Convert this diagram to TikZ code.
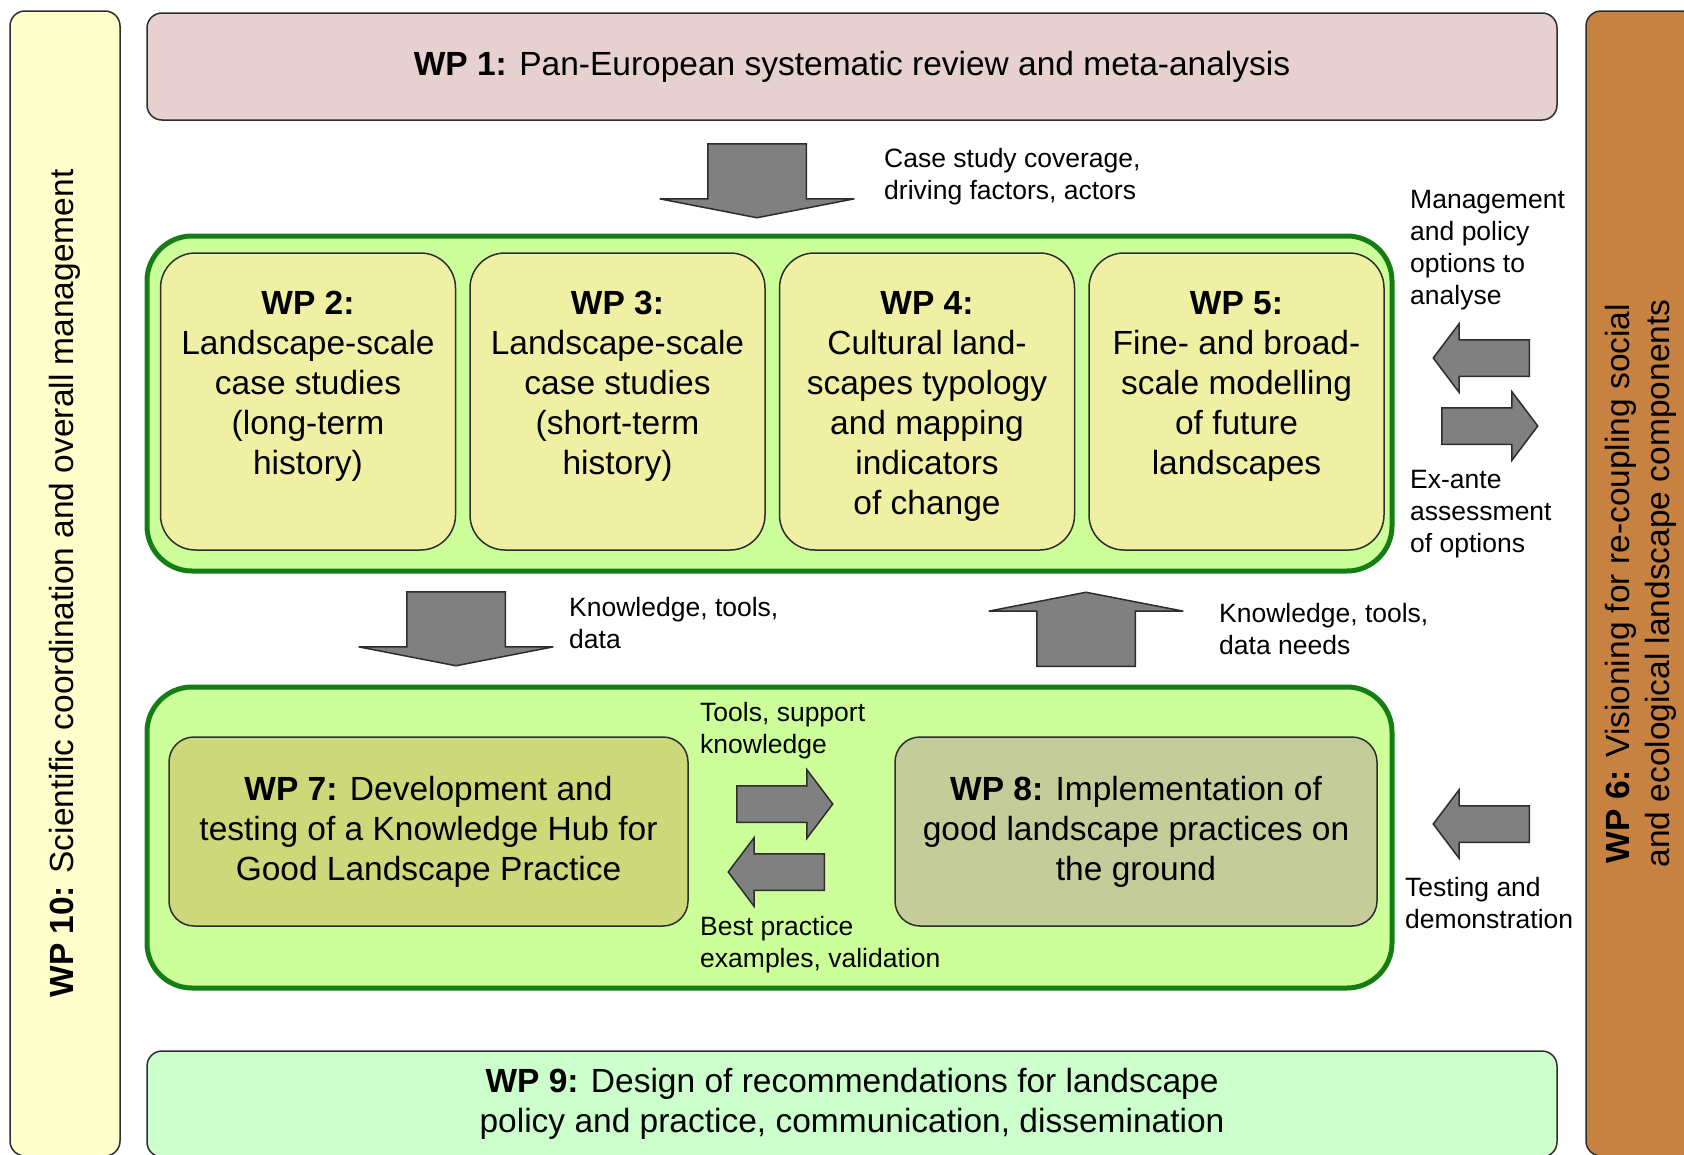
\documentclass[tikz,border=0pt]{standalone}
\usepackage{fontspec}
\setmainfont{Liberation Sans}
\usepackage{tikz}
\usetikzlibrary{positioning, shapes.arrows}

\definecolor{boxline}{RGB}{45,45,45}
\definecolor{arrowfill}{RGB}{128,128,128}
\definecolor{wpone}{RGB}{230,208,208}
\definecolor{wpten}{RGB}{255,255,204}
\definecolor{wpsix}{RGB}{199,129,64}
\definecolor{groupfill}{RGB}{204,255,153}
\definecolor{groupline}{RGB}{20,125,20}
\definecolor{casefill}{RGB}{240,240,165}
\definecolor{wpseven}{RGB}{204,216,122}
\definecolor{wpeight}{RGB}{196,204,153}
\definecolor{wpnine}{RGB}{204,255,204}

\begin{document}
\begin{tikzpicture}[
    x=1pt, y=-1pt,
    every node/.style={font=\fontsize{33.5}{40}\selectfont, align=center, inner sep=0pt},
    wpbox/.style={rectangle, rounded corners=15pt, draw=boxline, line width=1.5pt},
    groupbox/.style={rectangle, rounded corners=45pt, draw=groupline, fill=groupfill, line width=5pt},
    casebox/.style={wpbox, fill=casefill, rounded corners=35pt, minimum width=295pt, minimum height=297pt},
    bigarrow/.style={single arrow, draw=boxline, fill=arrowfill, line width=1.5pt, inner xsep=0pt, inner ysep=48.5pt, single arrow head extend=48pt, single arrow tip angle=158, minimum height=74pt},
    smallarrow/.style={single arrow, draw=boxline, fill=arrowfill, line width=1.5pt, inner xsep=0pt, inner ysep=17.5pt, single arrow head extend=16pt, single arrow tip angle=106, minimum height=96pt},
    note/.style={font=\fontsize{26.5}{32}\selectfont, align=left, anchor=west},
    ]
    \useasboundingbox (0,0) rectangle (1684,1154);
    %Side bars
    \node[wpbox, fill=wpten, minimum width=1145pt, minimum height=110pt, rotate=90] (wp10) at (65,583.5) {\textbf{WP 10:} Scientific coordination and overall management};
    \node[wpbox, fill=wpsix, minimum width=1145pt, minimum height=110pt, rotate=90] (wp6) at (1641,583.5) {\textbf{WP 6:} Visioning for re-coupling social\\and ecological landscape components};

    %Nodes
    \node[wpbox, fill=wpone, minimum width=1410pt, minimum height=107pt] (wp1) at (852,66.5) {\textbf{WP 1:} Pan-European systematic review and meta-analysis};

    \node[groupbox, minimum width=1245pt, minimum height=335pt] (upper) at (769.5,403.5) {};
    \node[casebox] (wp2) at (308,401.5) {};
    \node[casebox] (wp3) [right=13pt of wp2] {};
    \node[casebox] (wp4) [right=13pt of wp3] {};
    \node[casebox] (wp5) [right=13pt of wp4] {};
    \node (wp2 text) [below=39pt of wp2.north] {\textbf{WP 2:}\\Landscape-scale\\case studies\\(long-term\\history)};
    \node (wp3 text) [below=39pt of wp3.north] {\textbf{WP 3:}\\Landscape-scale\\case studies\\(short-term\\history)};
    \node (wp4 text) [below=39pt of wp4.north] {\textbf{WP 4:}\\Cultural land-\\scapes typology\\and mapping\\indicators\\of change};
    \node (wp5 text) [below=39pt of wp5.north] {\textbf{WP 5:}\\Fine- and broad-\\scale modelling\\of future\\landscapes};

    \node[groupbox, minimum width=1245pt, minimum height=301pt] (lower) at (769.5,837.5) {};
    \node[wpbox, fill=wpseven, rounded corners=25pt, minimum width=519pt, minimum height=189pt] (wp7) at (428.5,831.5) {\textbf{WP 7:} Development and\\testing of a Knowledge Hub for\\Good Landscape Practice};
    \node[wpbox, fill=wpeight, rounded corners=25pt, minimum width=482pt, minimum height=189pt] (wp8) at (1136,831.5) {\textbf{WP 8:} Implementation of\\good landscape practices on\\the ground};

    \node[wpbox, fill=wpnine, minimum width=1410pt, minimum height=106pt] (wp9) at (852,1104) {\textbf{WP 9:} Design of recommendations for landscape\\policy and practice, communication, dissemination};

    %Arrows
    \node[bigarrow, rotate=-90, anchor=tail] (cover arrow) at (757,143) {};
    \node[bigarrow, rotate=-90, anchor=tail] (know arrow) at (456,591) {};
    \node[bigarrow, rotate=90, anchor=tail] (needs arrow) at (1086,667) {};
    \node[smallarrow, rotate=180, anchor=tail] (policy arrow) at (1530,358) {};
    \node[smallarrow, anchor=tail] (exante arrow) at (1441,426) {};
    \node[smallarrow, rotate=180, anchor=tail] (testing arrow) at (1530,824) {};
    \node[smallarrow, anchor=tail] (tools arrow) at (736,804) {};
    \node[smallarrow, rotate=180, anchor=tail] (practice arrow) at (825,872) {};

    %Labels
    \node[note] (cover text) at (884,177) {Case study coverage,\\driving factors, actors};
    \node[note] (know text) at (569,623) {Knowledge, tools,\\data};
    \node[note] (needs text) at (1219,629) {Knowledge, tools,\\data needs};
    \node[note] (policy text) at (1410,250) {Management\\and policy\\options to\\analyse};
    \node[note] (exante text) at (1410,514) {Ex-ante\\assessment\\of options};
    \node[note] (tools text) at (700,731) {Tools, support\\knowledge};
    \node[note] (practice text) at (700,945) {Best practice\\examples, validation};
    \node[note] (testing text) at (1405,903) {Testing and\\demonstration};
\end{tikzpicture}
\end{document}
